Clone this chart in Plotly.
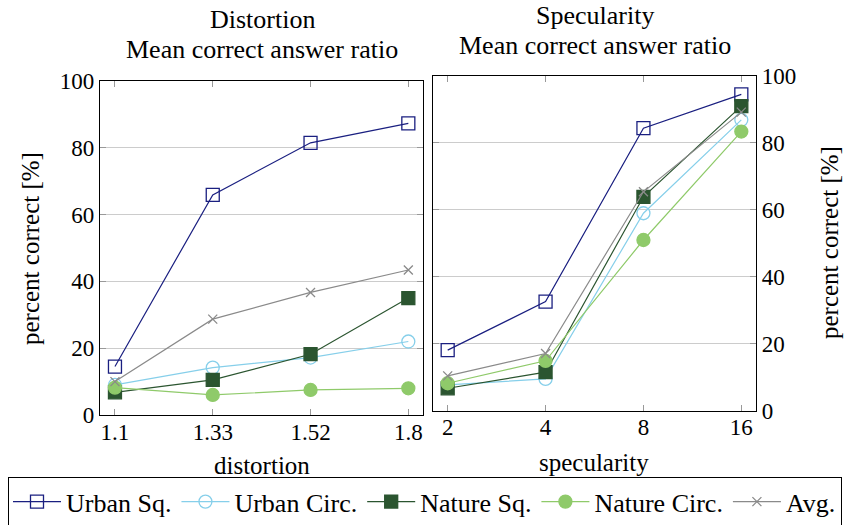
import plotly.graph_objects as go

dist_labels = ["1.1", "1.33", "1.52", "1.8"]
spec_labels = ["2", "4", "8", "16"]

series_names = ["Urban Sq.", "Urban Circ.", "Nature Sq.", "Nature Circ.", "Avg."]

dist_urban_sq = [14.5, 65.9, 81.5, 87.3]
dist_urban_circ = [9.0, 14.2, 17.2, 22.0]
dist_nature_sq = [6.8, 10.5, 18.2, 35.0]
dist_nature_circ = [8.2, 6.0, 7.5, 8.0]
dist_avg = [10.0, 28.7, 36.7, 43.4]

spec_urban_sq = [18.1, 32.6, 84.4, 94.5]
spec_urban_circ = [7.7, 9.5, 59.0, 86.9]
spec_nature_sq = [6.7, 11.5, 63.9, 91.0]
spec_nature_circ = [8.2, 14.9, 51.0, 83.4]
spec_avg = [10.4, 17.1, 65.4, 89.2]

colors = ["#1a1f80", "#86cfea", "#2b5530", "#8fca6a", "#8a8a8a"]
symbols = ["square-open", "circle-open", "square", "circle", "x-thin-open"]
sizes = [13, 13, 13, 13, 9]

FONT = "Liberation Serif, DejaVu Serif, serif"
fig = go.Figure()

dist_data = [dist_urban_sq, dist_urban_circ, dist_nature_sq, dist_nature_circ, dist_avg]
spec_data = [spec_urban_sq, spec_urban_circ, spec_nature_sq, spec_nature_circ, spec_avg]

for i, name in enumerate(series_names):
    mk = dict(symbol=symbols[i], size=sizes[i], color=colors[i],
              line=dict(color=colors[i], width=1.3))
    fig.add_trace(go.Scatter(x=dist_labels, y=dist_data[i], name=name, mode="lines+markers",
                             line=dict(color=colors[i], width=1.2), marker=mk,
                             xaxis="x", yaxis="y", legendgroup=name, showlegend=True))
for i, name in enumerate(series_names):
    mk = dict(symbol=symbols[i], size=sizes[i], color=colors[i],
              line=dict(color=colors[i], width=1.3))
    fig.add_trace(go.Scatter(x=spec_labels, y=spec_data[i], name=name, mode="lines+markers",
                             line=dict(color=colors[i], width=1.2), marker=mk,
                             xaxis="x2", yaxis="y2", legendgroup=name, showlegend=False))

W, H = 844, 525
def px(x0, x1):
    return [x0 / W, x1 / W]
def py(top, bottom):
    return [(H - bottom) / H, (H - top) / H]

axis_common = dict(showline=True, linecolor="black", linewidth=1.2, mirror="ticks",
                   ticks="inside", ticklen=6, tickcolor="#999999", tickwidth=1.2,
                   tickfont=dict(family=FONT, size=23, color="black"), zeroline=False)

fig.update_layout(
    width=W, height=H, margin=dict(l=0, r=0, t=0, b=0, autoexpand=False),
    plot_bgcolor="white", paper_bgcolor="white",
    font=dict(family=FONT, size=24, color="black"),
    xaxis=dict(domain=px(100, 423), type="category", range=[-0.153, 3.15],
               showgrid=False, ticklabelstandoff=-4, **axis_common),
    yaxis=dict(domain=py(81, 415), range=[0, 100], dtick=20, showgrid=True,
               gridcolor="#cccccc", gridwidth=1.2, **axis_common),
    xaxis2=dict(domain=px(433, 756), type="category", range=[-0.15, 3.15],
                showgrid=False, anchor="y2", ticklabelstandoff=-4, **axis_common),
    yaxis2=dict(domain=py(76, 410.7), range=[0, 100], dtick=20, showgrid=True,
                gridcolor="#cccccc", gridwidth=1.2, side="right", anchor="x2", **axis_common),
    legend=dict(orientation="h", x=8 / W, xanchor="left", y=(H - 502) / H, yanchor="middle",
                bordercolor="black", borderwidth=1.2, bgcolor="white",
                font=dict(family=FONT, size=26, color="black"),
                itemsizing="trace", itemwidth=48, tracegroupgap=0),
    showlegend=True,
)

ann = [
    dict(text="Distortion", x=262 / W, y=(H - 19) / H, size=26),
    dict(text="Mean correct answer ratio", x=262 / W, y=(H - 49) / H, size=26),
    dict(text="Specularity", x=595 / W, y=(H - 15) / H, size=26),
    dict(text="Mean correct answer ratio", x=595 / W, y=(H - 45) / H, size=26),
    dict(text="distortion", x=262 / W, y=(H - 465) / H, size=25),
    dict(text="specularity", x=594 / W, y=(H - 462) / H, size=25),
]
for a in ann:
    s = a.pop("size")
    fig.add_annotation(xref="paper", yref="paper", showarrow=False, xanchor="center",
                       yanchor="middle", font=dict(family=FONT, size=s, color="black"), **a)
fig.add_annotation(text="percent correct [%]", xref="paper", yref="paper", x=30 / W,
                   y=(H - 249) / H, textangle=-90, showarrow=False, xanchor="center",
                   yanchor="middle", font=dict(family=FONT, size=25, color="black"))
fig.add_annotation(text="percent correct [%]", xref="paper", yref="paper", x=829 / W,
                   y=(H - 243) / H, textangle=-90, showarrow=False, xanchor="center",
                   yanchor="middle", font=dict(family=FONT, size=25, color="black"))

fig.write_html("out.html")
